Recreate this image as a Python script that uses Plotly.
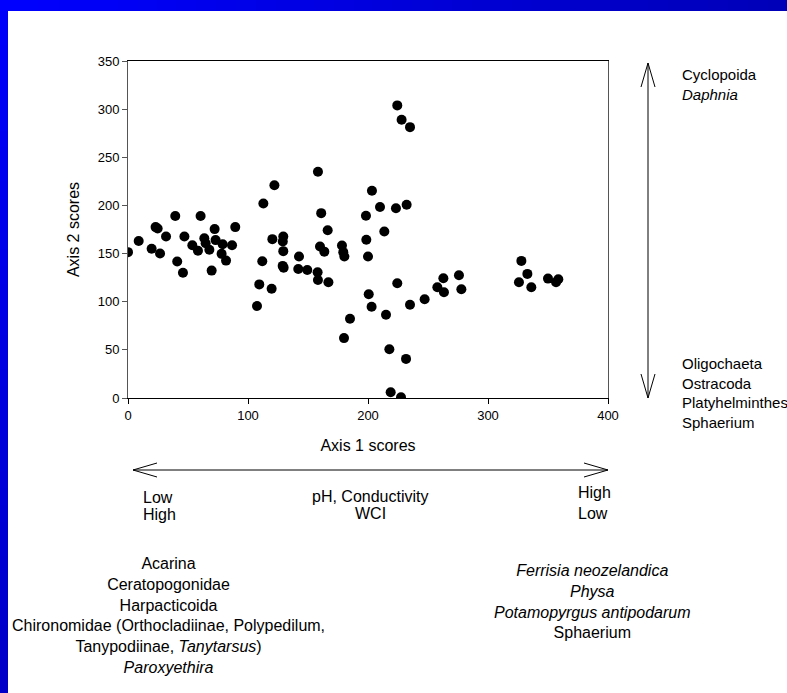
import plotly.graph_objects as go

# ---- data ----
axis1_scores = [0, 8.9, 19.7, 23, 24.7, 26.7, 31.7, 39.4, 41, 45.8, 47, 53.6, 58.3, 60.5,
                63.6, 64.7, 67.8, 72.2, 69.7, 73, 78.9, 78, 81.7, 86.7, 89.4,
                107.5, 109.4, 111.9, 112.8, 119.7, 120.3, 122, 129.4, 129, 129.4, 128.9, 129.7,
                142.5, 141.9, 149.4, 158.3, 158, 158.3, 160, 161, 163.6, 166.4, 167,
                178.3, 179.4, 180.3, 180, 185,
                198.3, 198.6, 200, 200.6, 203, 203.3, 210, 213.6, 215, 217.8, 218.9,
                223.3, 224.4, 224.4, 227.5, 228, 231.7, 232.2, 235, 235,
                247.2, 257.8, 262.8, 263.3, 275.8, 277.8,
                325.8, 327.8, 332.8, 336.1, 350, 356.7, 358.6]
axis2_scores = [151.5, 163, 155, 177.5, 176, 150, 167.7, 189, 141.7, 130, 167.7, 158.7, 153, 189,
                166, 160.8, 154, 175.4, 132.3, 164, 159.7, 149.7, 142.7, 158.7, 177.5,
                95.5, 118, 142, 202, 113.5, 165, 221, 167.7, 162.5, 152.5, 137.2, 135.4,
                146.9, 134, 133, 235, 130.6, 122.6, 157.3, 192, 152, 174.3, 120.2,
                158.3, 151.5, 147, 62.2, 82.3,
                189.3, 164.3, 146.9, 107.7, 94.8, 215.3, 198.3, 173, 86.5, 50.7, 6,
                197, 303.9, 119.2, 0.7, 289, 40.6, 200.7, 281.3, 96.9,
                102.5, 115, 124.4, 109.8, 127.5, 112.9,
                120.2, 142.4, 128.9, 115, 124, 120.2, 123.3]

x_ticks = [0, 100, 200, 300, 400]
y_ticks = [0, 50, 100, 150, 200, 250, 300, 350]

top_labels = ["Cyclopoida", "<i>Daphnia</i>"]
bottom_labels = ["Oligochaeta", "Ostracoda", "Platyhelminthes", "Sphaerium"]
left_taxa = ["Acarina", "Ceratopogonidae", "Harpacticoida",
             "Chironomidae (Orthocladiinae, Polypedilum,",
             "Tanypodiinae, <i>Tanytarsus</i>)", "<i>Paroxyethira</i>"]
right_taxa = ["<i>Ferrisia neozelandica</i>", "<i>Physa</i>",
              "<i>Potamopyrgus antipodarum</i>", "Sphaerium"]

# ---- layout geometry (pixels) ----
W, H = 787, 693
L, R, T, B = 128, 608, 61, 398
FONT = "Arial, Liberation Sans, sans-serif"


def px(x):
    return (x - L) / (R - L)


def py(y):
    return (B - y) / (B - T)


fig = go.Figure()
fig.add_trace(go.Scatter(x=axis1_scores, y=axis2_scores, mode="markers",
                         marker=dict(color="black", size=10, line=dict(width=0)),
                         showlegend=False, hoverinfo="x+y"))

shapes = []
# blue frame (gradient approximated by segments)
n = 40
for i in range(n):
    x0 = W * i / n
    x1 = W * (i + 1) / n + 1
    c = int(255 - 70 * i / (n - 1))
    shapes.append(dict(type="rect", xref="paper", yref="paper", x0=px(x0), x1=px(x1),
                       y0=py(11), y1=py(0), fillcolor=f"rgb(0,0,{c})", line=dict(width=0),
                       layer="above"))
for i in range(n):
    y0 = 11 + (H - 11) * i / n
    y1 = 11 + (H - 11) * (i + 1) / n + 1
    c = int(250 - 50 * i / (n - 1))
    shapes.append(dict(type="rect", xref="paper", yref="paper", x0=px(0), x1=px(8),
                       y0=py(y1), y1=py(y0), fillcolor=f"rgb(0,0,{c})", line=dict(width=0),
                       layer="above"))


def seg(x0, y0, x1, y1):
    shapes.append(dict(type="line", xref="paper", yref="paper", x0=px(x0), y0=py(y0),
                       x1=px(x1), y1=py(y1), line=dict(color="black", width=1)))


# horizontal double arrow
hy = 470
seg(133, hy, 608, hy)
seg(133, hy, 157, hy - 7)
seg(133, hy, 157, hy + 7)
seg(608, hy, 584, hy - 7)
seg(608, hy, 584, hy + 7)
# vertical double arrow
vx = 648
seg(vx, 63, vx, 398)
seg(vx, 63, vx - 7, 87)
seg(vx, 63, vx + 7, 87)
seg(vx, 398, vx - 7, 374)
seg(vx, 398, vx + 7, 374)

annotations = []


def ann(text, x, y, size=16, xanchor="center", align="center"):
    annotations.append(dict(text=text, x=px(x), y=py(y), xref="paper", yref="paper",
                            showarrow=False, xanchor=xanchor, yanchor="middle", align=align,
                            font=dict(family=FONT, size=size, color="black")))


ann("<br>".join(top_labels), 680, 84, size=15, xanchor="left", align="left")
ann("<br>".join(bottom_labels), 680, 393, size=15, xanchor="left", align="left")
ann("Low", 141, 497, xanchor="left")
ann("High", 141, 514, xanchor="left")
ann("pH, Conductivity", 370, 496)
ann("WCI", 370, 513)
ann("High", 594, 492)
ann("Low", 593, 513)
ann("<br>".join(left_taxa), 168, 615.5)
ann("<br>".join(right_taxa), 592, 601)

fig.update_layout(
    width=W, height=H,
    margin=dict(l=L, r=W - R, t=T, b=H - B, pad=0),
    paper_bgcolor="white", plot_bgcolor="white",
    shapes=shapes, annotations=annotations,
    font=dict(family=FONT, color="black"),
    xaxis=dict(range=[0, 400], tickvals=x_ticks, ticks="outside", ticklen=5,
               tickcolor="black", showline=True, linecolor="black", mirror=True,
               showgrid=False, zeroline=False, tickfont=dict(size=13, family=FONT),
               title=dict(text="Axis 1 scores", font=dict(size=16, family=FONT), standoff=18)),
    yaxis=dict(range=[0, 350], tickvals=y_ticks, ticks="outside", ticklen=5,
               tickcolor="#555", showline=True, linecolor="#555", mirror=True,
               showgrid=False, zeroline=False, tickfont=dict(size=13, family=FONT),
               title=dict(text="Axis 2 scores", font=dict(size=16, family=FONT), standoff=14)),
)

fig.write_html("out.html", config={"displayModeBar": False},
               post_script="document.body.style.margin='0';document.body.style.overflow='hidden';")
